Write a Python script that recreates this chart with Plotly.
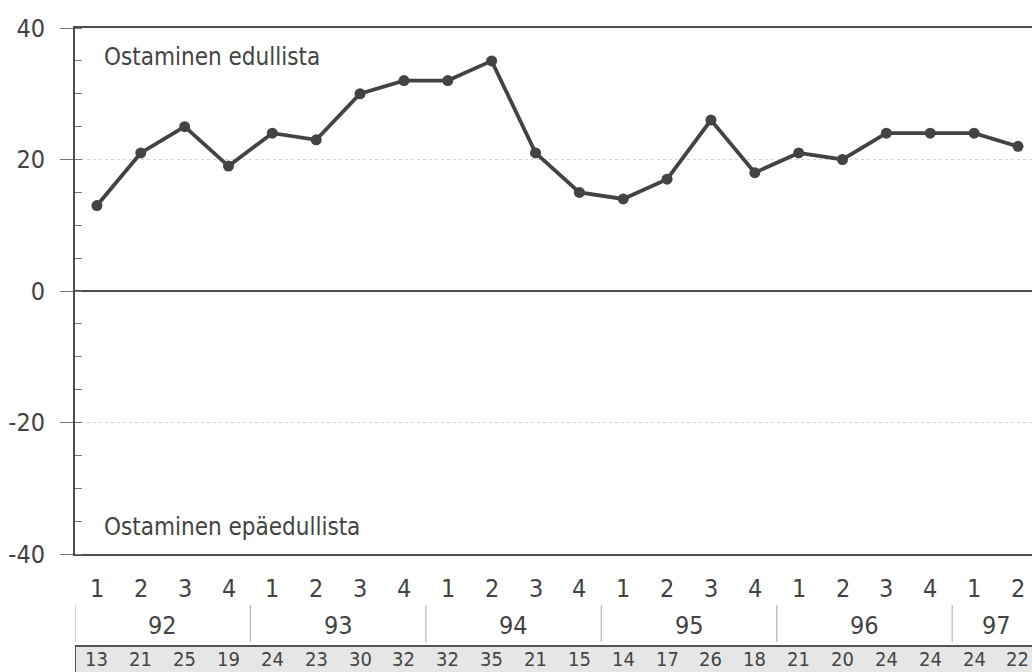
import plotly.graph_objects as go

# Quarterly balance figures, 1992 Q1 – 1997 Q2
quarters = ["1", "2", "3", "4"] * 5 + ["1", "2"]
years = ["92", "93", "94", "95", "96", "97"]
year_quarters = [4, 4, 4, 4, 4, 2]
values = [13, 21, 25, 19, 24, 23, 30, 32, 32, 35, 21, 15,
          14, 17, 26, 18, 21, 20, 24, 24, 24, 22]

FONT = "DejaVu Sans Condensed, Liberation Sans Narrow, sans-serif"
INK = "#434343"

W, H = 1032, 672
M_L, M_R, M_T, M_B = 75, 0, 28, 118
plot_h = H - M_T - M_B

idx = list(range(len(values)))
x_lo, x_hi = -0.5, 21.32

fig = go.Figure()
fig.add_trace(go.Scatter(
    x=idx, y=values, mode="lines+markers",
    line=dict(color=INK, width=3.8),
    marker=dict(color=INK, size=11),
    hoverinfo="skip", showlegend=False,
))


def py(px):
    """Pixel row (from top of page) -> paper y coordinate."""
    return (H - M_B - px) / plot_h


annotations = []
shapes = []

# Quarter labels under the plot
for i, q in enumerate(quarters):
    annotations.append(dict(x=i, y=py(588), xref="x", yref="paper", text=q,
                            showarrow=False, font=dict(family=FONT, size=25, color=INK),
                            xanchor="center", yanchor="middle"))

# Year labels and separators
start = 0
for yr, n in zip(years, year_quarters):
    mid = start + (n - 1) / 2
    annotations.append(dict(x=mid, y=py(625), xref="x", yref="paper", text=yr,
                            showarrow=False, font=dict(family=FONT, size=25, color=INK),
                            xanchor="center", yanchor="middle"))
    shapes.append(dict(type="line", xref="x", yref="paper",
                       x0=start - 0.5, x1=start - 0.5, y0=py(605), y1=py(642),
                       line=dict(color="#b5b5b5", width=1.2)))
    start += n

# Value table strip
shapes.append(dict(type="rect", xref="x", yref="paper",
                   x0=-0.5, x1=x_hi + 1, y0=py(646), y1=py(H + 10),
                   fillcolor="#e6e6e6", line=dict(width=0), layer="below"))
shapes.append(dict(type="line", xref="x", yref="paper",
                   x0=-0.5, x1=x_hi + 1, y0=py(646), y1=py(646),
                   line=dict(color="#555555", width=2)))
shapes.append(dict(type="line", xref="x", yref="paper",
                   x0=-0.5, x1=-0.5, y0=py(646), y1=py(H + 10),
                   line=dict(color="#555555", width=2)))
for i, v in enumerate(values):
    annotations.append(dict(x=i, y=py(659), xref="x", yref="paper", text=str(v),
                            showarrow=False, font=dict(family=FONT, size=20, color=INK),
                            xanchor="center", yanchor="middle"))

# In-plot captions
annotations.append(dict(x=-0.5, y=py(57), xref="x", yref="paper", xshift=27,
                        text="Ostaminen edullista", showarrow=False,
                        font=dict(family=FONT, size=24, color=INK),
                        xanchor="left", yanchor="middle"))
annotations.append(dict(x=-0.5, y=py(527), xref="x", yref="paper", xshift=27,
                        text="Ostaminen epäedullista", showarrow=False,
                        font=dict(family=FONT, size=24, color=INK),
                        xanchor="left", yanchor="middle"))

fig.update_layout(
    width=W, height=H,
    margin=dict(l=M_L, r=M_R, t=M_T, b=M_B),
    paper_bgcolor="white", plot_bgcolor="white",
    annotations=annotations, shapes=shapes,
    xaxis=dict(range=[x_lo, x_hi], showticklabels=False, ticks="",
               showgrid=False, zeroline=False, fixedrange=True,
               showline=True, linecolor="#4d4d4d", linewidth=2, mirror=True),
    yaxis=dict(range=[-40, 40], tickvals=[-40, -20, 0, 20, 40],
               ticktext=["-40", "-20", "0", "20", "40"],
               ticks="outside", ticklen=13, tickwidth=1, tickcolor="#777777",
               ticklabelstandoff=10,
               tickfont=dict(family=FONT, size=25, color=INK),
               showgrid=True, gridcolor="#d4d4d4", griddash="dot", gridwidth=1,
               zeroline=True, zerolinecolor="#4d4d4d", zerolinewidth=2,
               showline=True, linecolor="#4d4d4d", linewidth=2,
               minor=dict(dtick=5, ticks="inside", ticklen=7, tickcolor="#777777",
                          showgrid=False),
               fixedrange=True),
)

fig.write_html("out.html", config={"displayModeBar": False})
